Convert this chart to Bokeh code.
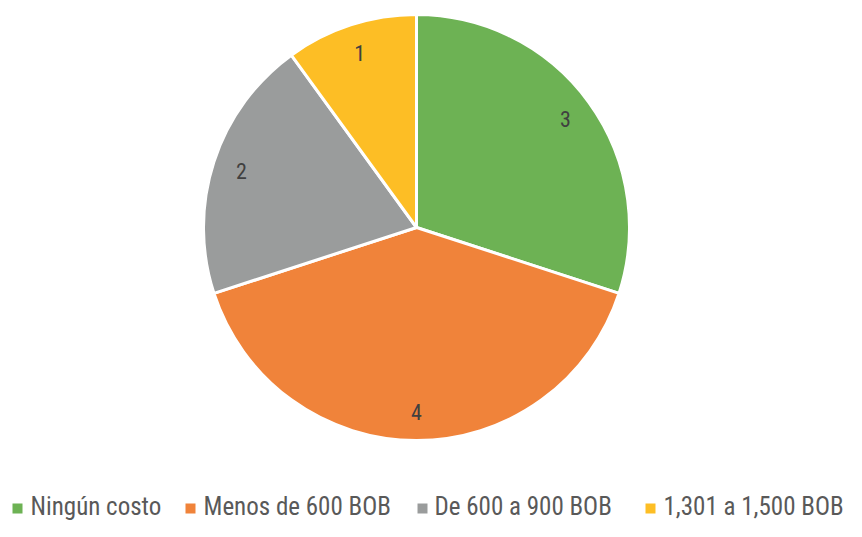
import math
from bokeh.plotting import figure
from bokeh.models import Range1d, ColumnDataSource
from bokeh.core.properties import value
from bokeh.embed import file_html
from bokeh.resources import INLINE

categories = ["Ningún costo", "Menos de 600 BOB", "De 600 a 900 BOB", "1,301 a 1,500 BOB"]
counts = [3, 4, 2, 1]
colors = ["#6DB254", "#F0833A", "#9A9C9C", "#FDBE25"]

W, H = 846, 521
cx, cy, R = 416, 294, 213
label_r = 184
FONT = "Roboto Condensed"

p = figure(width=W, height=H, output_backend="svg", toolbar_location=None,
           x_range=Range1d(0, W), y_range=Range1d(0, H), min_border=0)
p.axis.visible = False
p.grid.visible = False
p.outline_line_color = None

total = sum(counts)
starts, ends, lx, ly = [], [], [], []
cum = 0.0
for c in counts:
    a0 = math.pi / 2 - 2 * math.pi * (cum + c) / total
    a1 = math.pi / 2 - 2 * math.pi * cum / total
    starts.append(a0)
    ends.append(a1)
    mid = (a0 + a1) / 2
    lx.append(cx + label_r * math.cos(mid))
    ly.append(cy + label_r * math.sin(mid))
    cum += c

src = ColumnDataSource(dict(start=starts, end=ends, color=colors,
                            lx=lx, ly=ly, txt=[str(c) for c in counts]))
p.wedge(x=cx, y=cy, radius=R, start_angle="start", end_angle="end",
        fill_color="color", line_color="white", line_width=3, source=src)
p.text(x="lx", y="ly", text="txt", source=src, text_font=value(FONT),
       text_font_size="22px", text_color="#404040",
       text_align="center", text_baseline="middle")

# legend
sq_x = [17, 190, 422, 650]
tx_x = [30, 203, 434, 663]
sq_y = 13
p.scatter(x=sq_x, y=[sq_y] * 4, marker="square", size=10,
          fill_color=colors, line_color=None)
p.text(x=tx_x, y=[sq_y + 2] * 4, text=categories, text_font=value(FONT),
       text_font_size="25px", text_color="#595959",
       text_align="left", text_baseline="middle")

open("out.html", "w").write(file_html(p, INLINE))
